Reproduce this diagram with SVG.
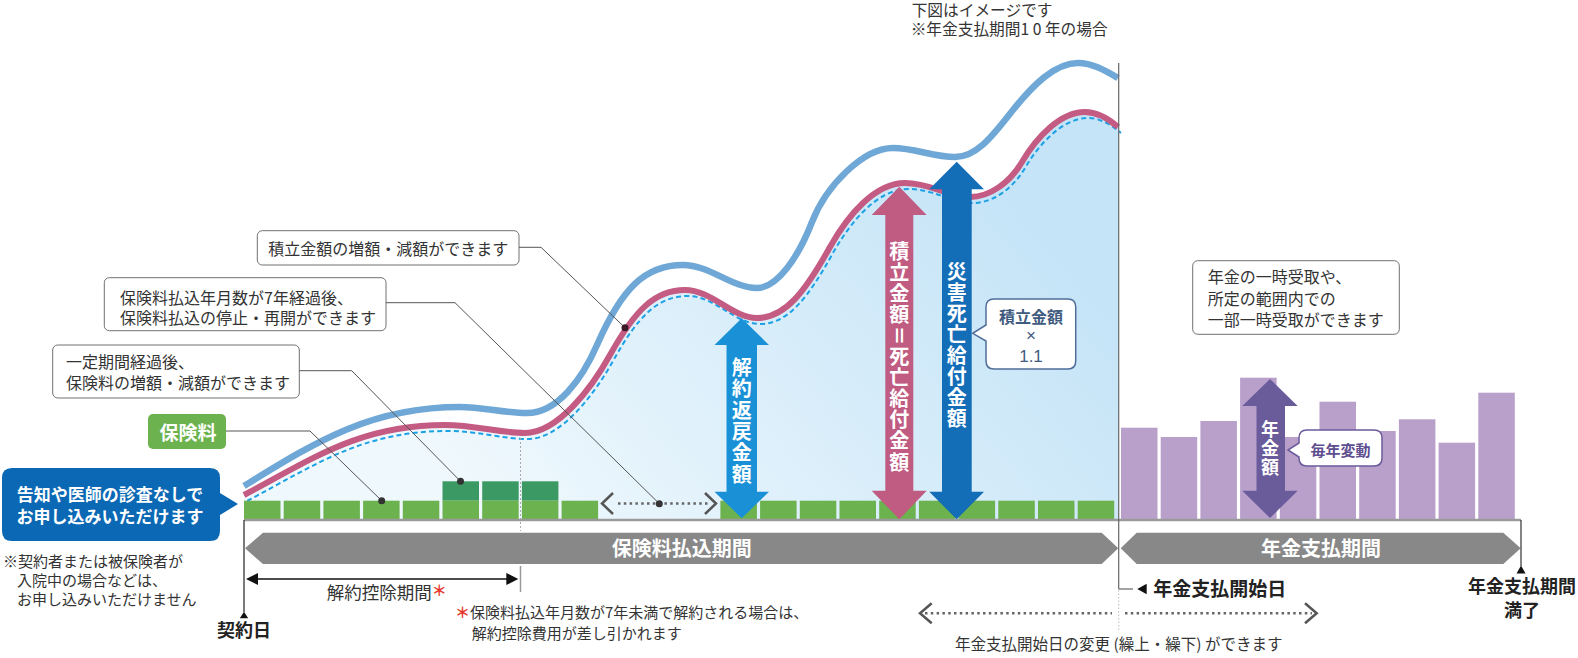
<svg xmlns="http://www.w3.org/2000/svg" width="1578" height="658" viewBox="0 0 1578 658">
<defs>
<style>
text{font-family:"Noto Sans CJK JP","Noto Sans",sans-serif;}
.t{font-size:16px;fill:#333;}
.n{font-size:15px;fill:#333;}
.bk{font-weight:700;fill:#222;}
.w{fill:#fff;font-weight:700;}
.v{fill:#fff;font-weight:700;writing-mode:vertical-rl;}
.box{fill:#fff;stroke:#707070;stroke-width:1;}
.lead{fill:none;stroke:#555;stroke-width:1;}
.dot{fill:#333;}
.g{fill:#6cb24e;}
.gd{fill:#3b9a63;}
.p{fill:#b9a0cb;}
.chev{fill:none;stroke:#555;stroke-width:2.5;}
.dots{fill:none;stroke:#666;stroke-width:2.5;stroke-dasharray:2.5 3.3;}
.gbar{fill:#888;}
</style>
<linearGradient id="fillGrad" gradientUnits="userSpaceOnUse" x1="500" y1="519" x2="950" y2="130">
<stop offset="0" stop-color="#eff8fd"/>
<stop offset="1" stop-color="#c5e4f7"/>
</linearGradient>
<clipPath id="chartClip"><rect x="244" y="0" width="874.7" height="500"/></clipPath>
</defs>
<rect width="1578" height="658" fill="#fff"/>

<g id="top-note">
<text class="t" x="911.7" y="16" style="font-size:15.7px">下図はイメージです</text>
<text class="t" x="910.7" y="35" style="font-size:15.7px">※年金支払期間<tspan letter-spacing="3.5">10</tspan>年の場合</text>
</g>

<g id="chart-area">
<path d="M244,495 C314,458 360,425 445,425 C475,425 500,433 525,433 C558,433 592,387.4 610,355 C635,310 655,290 685,290 C712,290 732,318 757,318 C785,318 805,292 830,247 C848,215 875,183 905,183 C930,183 950,197 970,197 C990,197 1010,182.4 1022,162 C1036,138 1060,112 1085,112 C1098,112 1110,120 1118,127 L1118,519 L244,519 Z" fill="url(#fillGrad)"/>
<path clip-path="url(#chartClip)" transform="translate(3,6)" d="M244,495 C314,458 360,425 445,425 C475,425 500,433 525,433 C558,433 592,387.4 610,355 C635,310 655,290 685,290 C712,290 732,318 757,318 C785,318 805,292 830,247 C848,215 875,183 905,183 C930,183 950,197 970,197 C990,197 1010,182.4 1022,162 C1036,138 1060,112 1085,112 C1098,112 1110,120 1118,127" fill="none" stroke="#1da1e6" stroke-width="2" stroke-dasharray="5 3.2"/>
<path d="M244,495 C314,458 360,425 445,425 C475,425 500,433 525,433 C558,433 592,387.4 610,355 C635,310 655,290 685,290 C712,290 732,318 757,318 C785,318 805,292 830,247 C848,215 875,183 905,183 C930,183 950,197 970,197 C990,197 1010,182.4 1022,162 C1036,138 1060,112 1085,112 C1098,112 1110,120 1118,127" fill="none" stroke="#c35b83" stroke-width="6"/>
<path d="M244,486 C314,443 370,407 460,407 C482,407 505,413 527,413 C557,413 582,379.5 597,345 C622,288 645,265 683,265 C710,265 732,288 757,288 C777,288 798,258 812,222 C826,186 863,148 893,148 C915,148 933,157 955,157 C978,157 995,132.5 1013,110 C1033,85 1055,63 1078,63 C1093,63 1106,71 1118,78" fill="none" stroke="#6fa8d6" stroke-width="6.5"/>
<line x1="520.5" y1="438" x2="520.5" y2="531" stroke="#aaa" stroke-width="1" stroke-dasharray="2 2"/>
</g>

<g id="bars-premium">
<rect class="g" x="244" y="500.7" width="36.5" height="18.5"/>
<rect class="g" x="283.7" y="500.7" width="36.5" height="18.5"/>
<rect class="g" x="323.4" y="500.7" width="36.5" height="18.5"/>
<rect class="g" x="363.1" y="500.7" width="36.5" height="18.5"/>
<rect class="g" x="402.8" y="500.7" width="36.5" height="18.5"/>
<rect class="gd" x="442.5" y="481.3" width="36.5" height="19.4"/>
<rect class="g" x="442.5" y="500.7" width="36.5" height="18.5"/>
<rect class="gd" x="482.2" y="481.3" width="36.5" height="19.4"/>
<rect class="g" x="482.2" y="500.7" width="36.5" height="18.5"/>
<rect class="gd" x="521.9" y="481.3" width="36.5" height="19.4"/>
<rect class="g" x="521.9" y="500.7" width="36.5" height="18.5"/>
<rect class="g" x="561.6" y="500.7" width="36.5" height="18.5"/>
<rect class="g" x="720.4" y="500.7" width="36.5" height="18.5"/>
<rect class="g" x="760.1" y="500.7" width="36.5" height="18.5"/>
<rect class="g" x="799.8" y="500.7" width="36.5" height="18.5"/>
<rect class="g" x="839.5" y="500.7" width="36.5" height="18.5"/>
<rect class="g" x="879.2" y="500.7" width="36.5" height="18.5"/>
<rect class="g" x="918.9" y="500.7" width="36.5" height="18.5"/>
<rect class="g" x="958.6" y="500.7" width="36.5" height="18.5"/>
<rect class="g" x="998.3" y="500.7" width="36.5" height="18.5"/>
<rect class="g" x="1038" y="500.7" width="36.5" height="18.5"/>
<rect class="g" x="1077.7" y="500.7" width="36.5" height="18.5"/>
</g>

<g id="bars-pension">
<rect class="p" x="1121" y="427.7" width="36.5" height="91.3"/>
<rect class="p" x="1160.7" y="437" width="36.5" height="82"/>
<rect class="p" x="1200.4" y="421" width="36.5" height="98"/>
<rect class="p" x="1240.1" y="377.7" width="36.5" height="141.3"/>
<rect class="p" x="1279.8" y="437" width="36.5" height="82"/>
<rect class="p" x="1319.5" y="401.7" width="36.5" height="117.3"/>
<rect class="p" x="1359.2" y="431" width="36.5" height="88"/>
<rect class="p" x="1398.9" y="419.3" width="36.5" height="99.7"/>
<rect class="p" x="1438.6" y="442.7" width="36.5" height="76.3"/>
<rect class="p" x="1478.3" y="392.7" width="36.5" height="126.3"/>
</g>

<g id="timeline">
<line x1="244" y1="520" x2="1521" y2="520" stroke="#9a9a9a" stroke-width="2.4"/>
<polygon class="gbar" points="245,548.3 263,532.7 1101.7,532.7 1118.3,548.3 1101.7,564 263,564"/>
<polygon class="gbar" points="1120.7,548.3 1136.7,532.7 1503.3,532.7 1520.7,548.3 1503.3,564 1136.7,564"/>
<text class="w" x="681.7" y="555.5" text-anchor="middle" style="font-size:20px">保険料払込期間</text>
<text class="w" x="1321" y="556" text-anchor="middle" style="font-size:20px">年金支払期間</text>
<line x1="244" y1="520" x2="244" y2="612" stroke="#222" stroke-width="1.2"/>
<polygon points="244,611.7 239.8,618.3 248.2,618.3" fill="#111"/>
<text class="bk" x="244" y="637" text-anchor="middle" style="font-size:18px">契約日</text>
<line x1="520.5" y1="566" x2="520.5" y2="592" stroke="#999" stroke-width="1.5"/>
<line x1="1118.7" y1="63" x2="1118.7" y2="589" stroke="#666" stroke-width="1.2"/>
<line x1="1118.7" y1="589" x2="1133" y2="589" stroke="#666" stroke-width="1.2"/>
<line x1="1118.7" y1="590" x2="1118.7" y2="632" stroke="#bbb" stroke-width="1" stroke-dasharray="1.5 2"/>
<polygon points="1137.3,589 1146.7,583.8 1146.7,594.2" fill="#111"/>
<text class="bk" x="1153.3" y="596" style="font-size:19px">年金支払開始日</text>
<line x1="1521" y1="520" x2="1521" y2="566" stroke="#333" stroke-width="1.2"/>
<polygon points="1521,565.5 1516.5,573.5 1525.5,573.5" fill="#111"/>
<text class="bk" x="1522" y="593" text-anchor="middle" style="font-size:18px">年金支払期間</text>
<text class="bk" x="1522" y="617" text-anchor="middle" style="font-size:18px">満了</text>
</g>

<g id="surrender-period">
<line x1="252" y1="579" x2="512" y2="579" stroke="#111" stroke-width="1.5"/>
<polygon points="246,579 258,573 258,585" fill="#111"/>
<polygon points="518.3,579 506.3,573 506.3,585" fill="#111"/>
<text x="326.7" y="599" style="font-size:17.5px;fill:#333">解約控除期間<tspan fill="#e5392f" font-weight="700" style="font-size:15px" dy="-3">＊</tspan></text>
<text class="n" x="455" y="618"><tspan fill="#e5392f" font-weight="700">＊</tspan>保険料払込年月数が7年未満で解約される場合は、</text>
<text class="n" x="471.7" y="639">解約控除費用が差し引かれます</text>
</g>

<g id="pause-arrow">
<polyline class="chev" points="613,493 602,503.5 613,514"/>
<line class="dots" x1="618" y1="503.5" x2="708" y2="503.5"/>
<polyline class="chev" points="705,493 716,503.5 705,514"/>
</g>

<g id="start-change-arrow">
<polyline class="chev" points="931.7,603.3 920,613.3 931.7,623.3"/>
<line class="dots" x1="925" y1="613.3" x2="1112" y2="613.3"/>
<line class="dots" x1="1125" y1="613.3" x2="1312" y2="613.3"/>
<polyline class="chev" points="1305,603.3 1316.7,613.3 1305,623.3"/>
<text class="n" x="955" y="650" style="font-size:15.5px">年金支払開始日の変更 (繰上・繰下) ができます</text>
</g>

<g id="arrow-surrender">
<polygon points="741.7,318.3 769,345 757,345 757,491.7 769,491.7 741.7,518.3 714.5,491.7 726.5,491.7 726.5,345 714.5,345" fill="#1a91d6"/>
<text class="v" x="741.7" y="357.5" style="font-size:20px;letter-spacing:1.3px">解約返戻金額</text>
</g>

<g id="arrow-death">
<polygon points="899.3,186.7 926.7,215 913.3,215 913.3,490.7 926.7,490.7 899.3,519.3 871.7,490.7 885.3,490.7 885.3,215 871.7,215" fill="#c05b82"/>
<text class="v" x="899.3" y="241" style="font-size:20px;letter-spacing:1.1px">積立金額＝死亡給付金額</text>
</g>

<g id="arrow-accident">
<polygon points="956.7,161.7 984,189.3 971.7,189.3 971.7,491.7 984,491.7 956.7,519.3 929.3,491.7 942,491.7 942,189.3 929.3,189.3" fill="#136db7"/>
<text class="v" x="956.7" y="261" style="font-size:20px;letter-spacing:1.1px">災害死亡給付金額</text>
</g>

<g id="callout-x11">
<path d="M994,299 H1067.7 Q1075.7,299 1075.7,307 V361 Q1075.7,369 1067.7,369 H994 Q986,369 986,361 V341 L972.7,333.3 L986,325 V307 Q986,299 994,299 Z" fill="#fff" stroke="#4f6e98" stroke-width="1.5"/>
<text x="1031" y="323" text-anchor="middle" style="font-size:16px;font-weight:700;fill:#3f5b80">積立金額</text>
<text x="1031" y="341" text-anchor="middle" style="font-family:'Liberation Sans',sans-serif;font-size:17px;fill:#3f5b80">×</text>
<text x="1031" y="361.5" text-anchor="middle" style="font-family:'Liberation Sans',sans-serif;font-size:17px;fill:#3f5b80">1.1</text>
</g>

<g id="arrow-pension">
<polygon points="1270,379 1297.7,406 1285,406 1285,490.7 1297.7,490.7 1270,518 1242.3,490.7 1256.5,490.7 1256.5,406 1242.3,406" fill="#6a5b9b"/>
<text class="v" x="1270" y="420" style="font-size:18px;letter-spacing:1px">年金額</text>
</g>

<g id="callout-yearly">
<path d="M1307,430 H1374 Q1382,430 1382,438 V458 Q1382,466 1374,466 H1307 Q1299,466 1299,458 V457 L1288,450 L1299,443 V438 Q1299,430 1307,430 Z" fill="#fff" stroke="#6a5b9b" stroke-width="1.5"/>
<text x="1340.5" y="455.5" text-anchor="middle" style="font-size:15px;font-weight:700;fill:#5e4e90">毎年変動</text>
</g>

<g id="callout-lump">
<rect class="box" x="1192.7" y="260.7" width="206.6" height="73.6" rx="5"/>
<text class="t" x="1207.7" y="283">年金の一時受取や、</text>
<text class="t" x="1207.7" y="304.5">所定の範囲内での</text>
<text class="t" x="1207.7" y="326">一部一時受取ができます</text>
</g>

<g id="callout-no-exam">
<path d="M12,468 H210 Q220,468 220,478 V493 L238,504 L220,515 V531 Q220,541 210,541 H12 Q2,541 2,531 V478 Q2,468 12,468 Z" fill="#0a68b4"/>
<text class="w" x="110" y="500.5" text-anchor="middle" style="font-size:17px">告知や医師の診査なしで</text>
<text class="w" x="110" y="522.5" text-anchor="middle" style="font-size:17px">お申し込みいただけます</text>
<text class="n" x="3" y="567">※契約者または被保険者が</text>
<text class="n" x="17" y="586">入院中の場合などは、</text>
<text class="n" x="17" y="605">お申し込みいただけません</text>
</g>

<g id="label-premium">
<rect x="148" y="414" width="78" height="35" rx="5" fill="#6cb24e"/>
<text class="w" x="188" y="439.5" text-anchor="middle" style="font-size:19px">保険料</text>
</g>

<g id="callout-premium-change">
<rect class="box" x="52.7" y="345" width="246.6" height="53" rx="5"/>
<text class="t" x="66" y="368">一定期間経過後、</text>
<text class="t" x="66" y="389">保険料の増額・減額ができます</text>
</g>

<g id="callout-pause">
<rect class="box" x="104.3" y="277.7" width="281.7" height="53" rx="5"/>
<text class="t" x="120" y="303.5">保険料払込年月数が7年経過後、</text>
<text class="t" x="120" y="323.5">保険料払込の停止・再開ができます</text>
</g>

<g id="callout-fund-change">
<rect class="box" x="257.3" y="230.7" width="261.7" height="34.3" rx="5"/>
<text class="t" x="388.2" y="255" text-anchor="middle">積立金額の増額・減額ができます</text>
</g>

<g id="connectors">
<path class="lead" d="M226,431 H310 L381.7,500.7"/>
<circle class="dot" cx="381.7" cy="500.7" r="3.5"/>
<path class="lead" d="M299.3,370.7 H351.7 L460.5,481.3"/>
<circle class="dot" cx="460.5" cy="481.3" r="3.5"/>
<path class="lead" d="M386,302.7 H455 L659.3,503.7"/>
<circle class="dot" cx="659.3" cy="503.7" r="3.5"/>
<path class="lead" d="M519,247.3 H541 L625,327.7"/>
<circle cx="625" cy="327.7" r="3.5" fill="#3a1a28"/>
</g>
</svg>
